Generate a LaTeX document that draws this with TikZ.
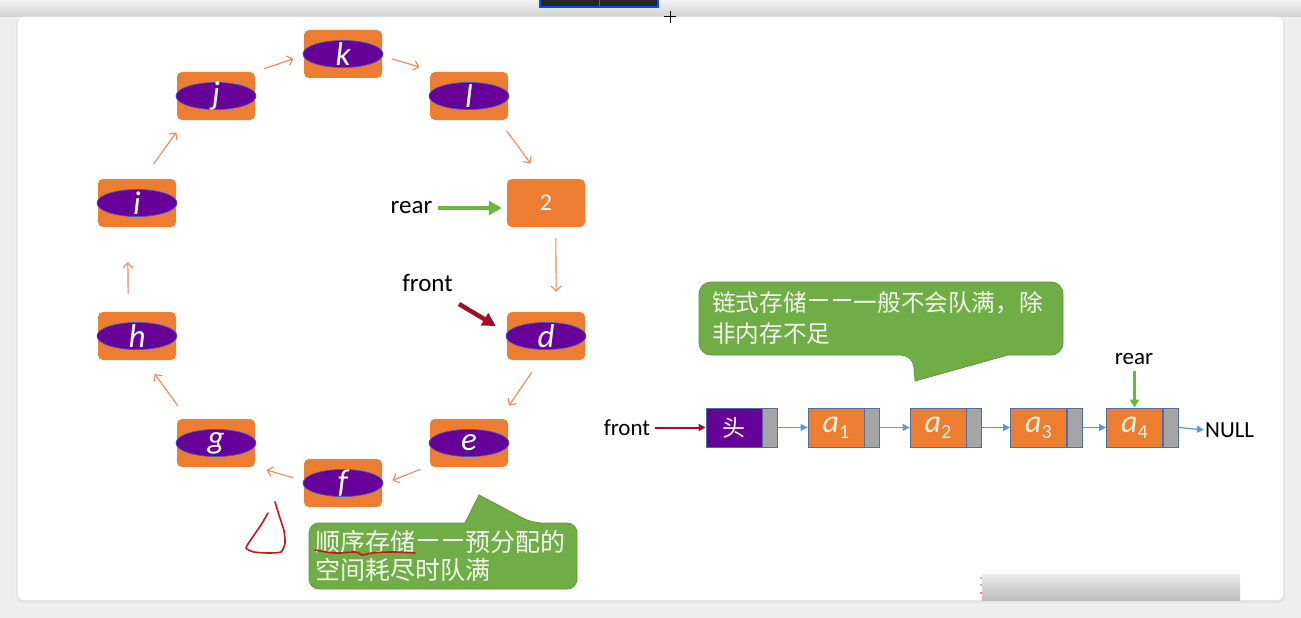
\documentclass[tikz,border=0pt]{standalone}
\usepackage{fontspec}
\setmainfont{Carlito}
\newfontfamily\cjk{Noto Sans CJK SC}
\usetikzlibrary{shapes.geometric,arrows.meta,calc}
\definecolor{orng}{RGB}{237,125,49}
\definecolor{purp}{RGB}{102,0,153}
\definecolor{ellb}{RGB}{68,84,196}
\definecolor{oarrc}{RGB}{229,137,96}
\definecolor{bubg}{RGB}{112,173,71}
\definecolor{bubb}{RGB}{96,150,60}
\definecolor{grn}{RGB}{106,184,60}
\definecolor{dred}{RGB}{160,16,40}
\definecolor{blu}{RGB}{91,155,213}
\definecolor{nodeb}{RGB}{80,110,160}
\definecolor{gry}{RGB}{165,165,165}
\definecolor{anno}{RGB}{200,20,30}
\definecolor{bgg}{RGB}{238,238,238}
\definecolor{txtw}{RGB}{244,250,238}
\definecolor{atxt}{RGB}{255,240,215}
\newcommand\ringnode[3]{%
  \node[obox] (#1) at (#2) {};
  \node[pell] (#1e) at (#1) {};
  \node[letter] (#1t) at (#1) {#3};}
\newcommand\cjkdash{\hspace{0.1em}\rule[0.42em]{0.8em}{2pt}\hspace{0.1em}}
\newcommand\asub[1]{a\raisebox{-6pt}{\upshape\fontsize{20}{20}\selectfont #1}}
\begin{document}
\begin{tikzpicture}[x=1pt,y=-1pt,
  obox/.style={rectangle, rounded corners=5pt, fill=orng, minimum width=78pt, minimum height=48pt, inner sep=0pt},
  pell/.style={ellipse, fill=purp, draw=ellb, line width=0.7pt, minimum width=80pt, minimum height=27pt, inner sep=0pt},
  letter/.style={text=white, inner sep=0pt, font=\itshape\fontsize{33}{33}\selectfont},
  oarr/.style={draw=oarrc, line width=1.1pt, -{Straight Barb[length=5pt,width=10pt]}},
  lbl/.style={inner sep=0pt, text=black, font=\fontsize{25}{25}\selectfont},
  lblr/.style={inner sep=0pt, text=black, font=\fontsize{23}{23}\selectfont},
  garr/.style={draw=grn, line width=4.5pt, -{Triangle[length=13pt,width=14pt]}},
  rarr/.style={draw=dred, line width=4.5pt, -{Triangle[length=13pt,width=14pt]}},
  lbox/.style={rectangle, draw=nodeb, line width=0.8pt, minimum width=56pt, minimum height=39pt, inner sep=0pt},
  abox/.style={lbox, fill=orng, text=atxt, font=\itshape\fontsize{32}{32}\selectfont},
  lptr/.style={rectangle, draw=nodeb, fill=gry, line width=0.8pt, minimum width=15pt, minimum height=39pt, inner sep=0pt, anchor=west},
  barr/.style={draw=blu, line width=1.2pt, -{Triangle[length=7pt,width=7pt]}},
  bub/.style={fill=bubg, draw=bubb, line width=0.8pt},
  bubtxt/.style={inner sep=0pt, text=txtw, align=left},
  annot/.style={draw=anno, line width=1.6pt, line cap=round, line join=round}
]
\useasboundingbox (0,0) rectangle (1301,618);
% screen background
\fill[bgg] (0,0) rectangle (1301,618);
\shade[top color=white!95!black, bottom color=white!82!black] (0,0) rectangle (1301,17);
\fill[black!85] (540,0) rectangle (658,7);
\draw[blue!70!cyan, line width=1.5pt] (540,-1) rectangle (658,7);
\draw[black!60, line width=0.6pt] (599,0) -- (599,7);
% card with shadow
\fill[black!6, rounded corners=8pt] (15,17) rectangle (1287,606);
\fill[black!10, rounded corners=7pt] (16,17) rectangle (1285,603);
\fill[white, rounded corners=6pt] (18,17) rectangle (1283,600);
% cursor
\draw[black, line width=1pt] (664,17) -- (676,17) (670,11) -- (670,23);
% bottom gray bar
\shade[top color=white!90!red!40!black!12, bottom color=black!26] (982,574) rectangle (1240,600);
\fill[anno!70] (981,578) circle (0.8) (981,585) circle (0.8) (981,593) circle (1.1);

% ring
\ringnode{k}{343,54}{k}
\ringnode{l}{469,96}{l}
\ringnode{j}{216,96}{j}
\ringnode{i}{137,203}{i}
\node[obox, text=white, font=\fontsize{24}{24}\selectfont] (two) at (546,203) {2};
\ringnode{h}{137,336}{h}
\ringnode{d}{546,336}{d}
\ringnode{g}{216,443}{g}
\ringnode{e}{469,443}{e}
\ringnode{f}{343,483}{f}

\draw[oarr, shorten <=18pt, shorten >=15pt] (i.76) -- (j.218);
\draw[oarr, shorten <=10pt, shorten >=11pt] (j.32) -- (k.182);
\draw[oarr, shorten <=10pt, shorten >=17pt] (k.357) -- (l.144);
\draw[oarr, shorten <=13pt, shorten >=19pt] (l.321) -- (two.100);
\draw[oarr, shorten <=11pt, shorten >=20pt] (two.292.6) -- (d.67.4);
\draw[oarr, shorten <=14pt, shorten >=16pt] (d.256) -- (e.38.7);
\draw[oarr, shorten <=10pt, shorten >=11pt] (e.210) -- (f.358);
\draw[oarr, shorten <=11pt, shorten >=12pt] (f.177.7) -- (g.329);
\draw[oarr, shorten <=16pt, shorten >=17pt] (g.140) -- (h.288);
\draw[oarr, shorten <=18pt, shorten >=35pt] (h.110.6) -- (i.249.4);

% rear / front on ring
\node[lbl] (rearL) at (411.5,208) {rear};
\draw[garr, shorten <=6pt, shorten >=5pt] (rearL.east) -- (rearL.east -| two.west);
\node[lbl] (frontL) at (427.5,283) {front};
\coordinate (fc) at (459,304);
\draw[rarr, shorten >=13pt] (fc) -- (d.175.5);

% bubble left
\draw[bub] (400,523) [rounded corners=10pt] -- (309,523) -- (309,589) -- (577,589) -- (577,523) -- (532,523) [sharp corners] -- (479,495) -- (465,523) [rounded corners=10pt] -- cycle;
\node[bubtxt, anchor=north west, font=\cjk\fontsize{25}{28}\selectfont] (b1t) at (315,530) {顺序存储\cjkdash\cjkdash 预分配的\\空间耗尽时队满};
% annotations
\draw[annot] plot[smooth, tension=0.35] coordinates {(275,502) (279,515) (284,531) (285,543) (281,552) (268,553) (254,552) (246,548) (252,538) (261,525) (268,513)};
\draw[annot] plot[smooth, tension=0.7] coordinates {(315,550) (335,553) (355,552) (362,555) (372,553) (392,552) (415,553)};

% bubble right
\draw[bub] (800,282) [rounded corners=12pt] -- (699,282) -- (699,355) -- (913,355) [sharp corners] -- (915,381) -- (1008,355) [rounded corners=12pt] -- (1063,355) -- (1063,282) -- cycle;
\node[bubtxt, anchor=north west, font=\cjk\fontsize{23.6}{31}\selectfont] (b2t) at (712,291) {链式存储\cjkdash\cjkdash 一般不会队满，除\\非内存不足};

% linked list
\node[lbox, fill=purp, text=white, font=\cjk\fontsize{23}{23}\selectfont] (L0) at (734,427.5) {头};
\node[lptr] (L0p) at (L0.east) {};
\node[abox] (L1) at (836,427.5) {\asub{1}};
\node[lptr] (L1p) at (L1.east) {};
\node[abox] (L2) at (938,427.5) {\asub{2}};
\node[lptr] (L2p) at (L2.east) {};
\node[abox] (L3) at (1038.5,427.5) {\asub{3}};
\node[lptr] (L3p) at (L3.east) {};
\node[abox] (L4) at (1134.5,427.5) {\asub{4}};
\node[lptr] (L4p) at (L4.east) {};
\node[lblr, anchor=west] (null) at (1205,430) {NULL};
\draw[barr] (L0p.east) -- (L1.west);
\draw[barr] (L1p.east) -- (L2.west);
\draw[barr] (L2p.east) -- (L3.west);
\draw[barr] (L3p.east) -- (L4.west);
\draw[barr, shorten >=1pt] (L4p.east) -- (null.west);
\node[lblr] (frontR) at (627,428) {front};
\draw[draw=dred, line width=2pt, -{Triangle[length=7pt,width=7pt]}, shorten <=5pt] (frontR.east |- L0.west) -- (L0.west);
\node[lblr] (rearR) at (1134,359) {rear};
\draw[draw=grn, line width=2.5pt, -{Triangle[length=8pt,width=9pt]}, shorten <=6pt] (rearR.south -| L4.north) -- (L4.north);
\end{tikzpicture}
\end{document}
